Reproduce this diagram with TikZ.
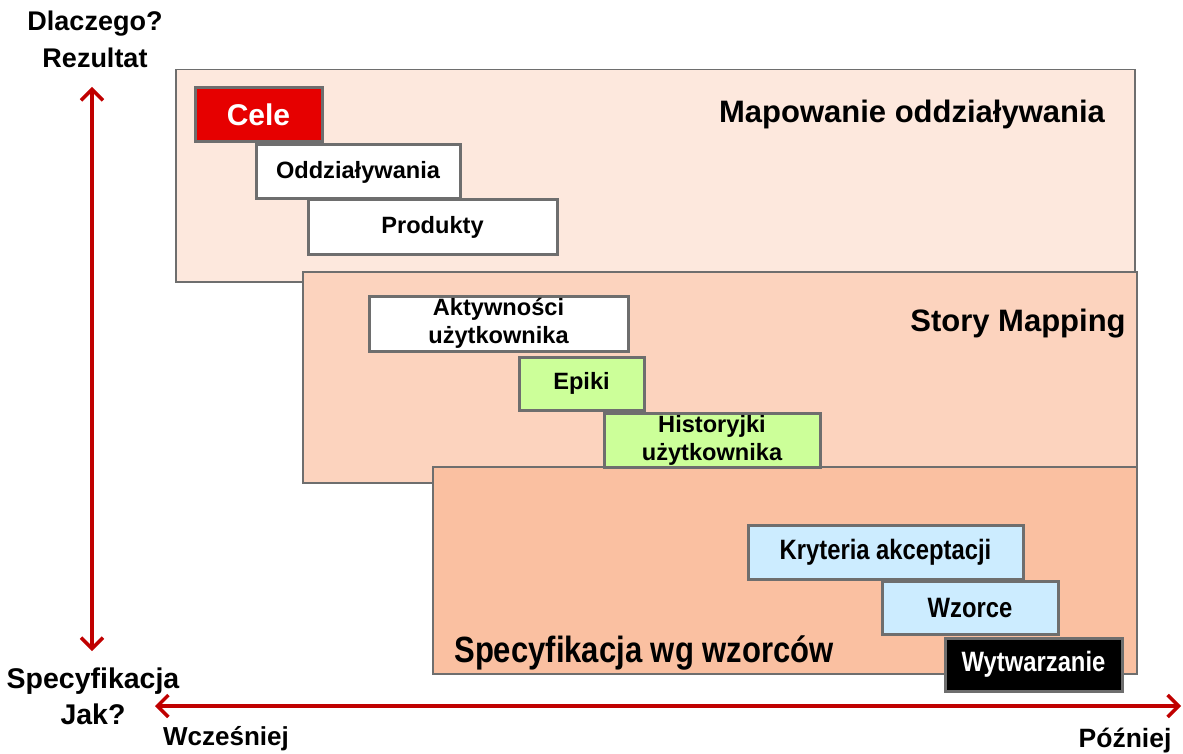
\documentclass[tikz,border=0pt]{standalone}
\usepackage{fontspec}
\setmainfont{Liberation Sans}
\newfontfamily\narrowfont[FakeStretch=0.85]{Liberation Sans}
\usetikzlibrary{arrows.meta}
\definecolor{bgA}{HTML}{FDE8DD}
\definecolor{bgB}{HTML}{FCD3BE}
\definecolor{bgC}{HTML}{FAC0A1}
\definecolor{edgegray}{HTML}{6E6E6E}
\definecolor{celered}{HTML}{E60000}
\definecolor{epicgreen}{HTML}{CCFF99}
\definecolor{specblue}{HTML}{CCECFF}
\definecolor{axisred}{HTML}{C00000}
\tikzset{
  bigbox/.style={draw=edgegray, line width=1.5, rectangle, inner sep=0, anchor=north west},
  smallbox/.style={draw=edgegray, line width=3, rectangle, inner sep=0, align=center,
     font=\bfseries\fontsize{23.6}{28}\selectfont},
  narrowbox/.style={smallbox, font=\narrowfont\bfseries\fontsize{28}{30}\selectfont},
  title/.style={inner sep=0, font=\bfseries\fontsize{31}{36}\selectfont},
  axislabel/.style={inner sep=0, align=center, font=\bfseries\fontsize{27}{37}\selectfont},
  axis/.style={draw=axisred, line width=3.5, {Straight Barb[length=11,width=22]}-{Straight Barb[length=11,width=22]}}
}
\begin{document}
\begin{tikzpicture}[x=1pt,y=-1pt]
\useasboundingbox (0,0) rectangle (1183,754);
% big regions
\node[bigbox, fill=bgA, minimum width=959, minimum height=212] (mapbox) at (175,69) {};
\node[bigbox, fill=bgB, minimum width=834, minimum height=211] (storybox) at (302,271) {};
\node[bigbox, fill=bgC, minimum width=704, minimum height=207] (specbox) at (432,466) {};
% titles
\node[title] (maptitle) at (912,114) {Mapowanie oddziaływania};
\node[title] (storytitle) at (1018,324) {Story Mapping};
\node[inner sep=0, font=\narrowfont\bfseries\fontsize{36.5}{40}\selectfont] (spectitle) at (644,653) {Specyfikacja wg wzorców};
% impact mapping boxes
\node[smallbox, fill=celered, text=white, minimum width=127, minimum height=54,
      font=\bfseries\fontsize{30}{34}\selectfont] (cele) at (258.5,115) {Cele};
\node[smallbox, fill=white, minimum width=204, minimum height=54] (oddz) at (358,172) {Oddziaływania};
\node[smallbox, fill=white, minimum width=249, minimum height=54] (prod) at (432.5,227) {Produkty};
% story mapping boxes
\node[smallbox, fill=white, minimum width=259, minimum height=55] (akt) at (498.5,323.5) {Aktywności\\użytkownika};
\node[smallbox, fill=epicgreen, minimum width=125, minimum height=53] (epiki) at (581.5,383.5) {Epiki};
\node[smallbox, fill=epicgreen, minimum width=216, minimum height=54] (hist) at (712,440) {Historyjki\\użytkownika};
% specification boxes
\node[narrowbox, fill=specblue, minimum width=275, minimum height=54] (kryt) at (885.5,552) {Kryteria akceptacji};
\node[narrowbox, fill=specblue, minimum width=176, minimum height=53] (wzorce) at (970,607.5) {Wzorce};
\node[narrowbox, fill=black, text=white, minimum width=177, minimum height=53] (wytw) at (1033.5,664.5) {Wytwarzanie};
% axis labels
\node[axislabel] (why) at (95,39) {Dlaczego?\\Rezultat};
\node[axislabel, font=\bfseries\fontsize{28.5}{36}\selectfont] (how) at (93,696) {Specyfikacja\\Jak?};
\node[inner sep=0, font=\bfseries\fontsize{26}{30}\selectfont] (early) at (226,739) {Wcześniej};
\node[inner sep=0, font=\bfseries\fontsize{26.5}{30}\selectfont] (late) at (1125,741) {Później};
% axes
\coordinate (vtop) at (92,87);
\coordinate (vbot) at (92,651);
\coordinate (hleft) at (155,706);
\coordinate (hright) at (1181,706);
\draw[axis] (vbot) -- (vtop);
\draw[axis] (hleft) -- (hright);
\end{tikzpicture}
\end{document}
